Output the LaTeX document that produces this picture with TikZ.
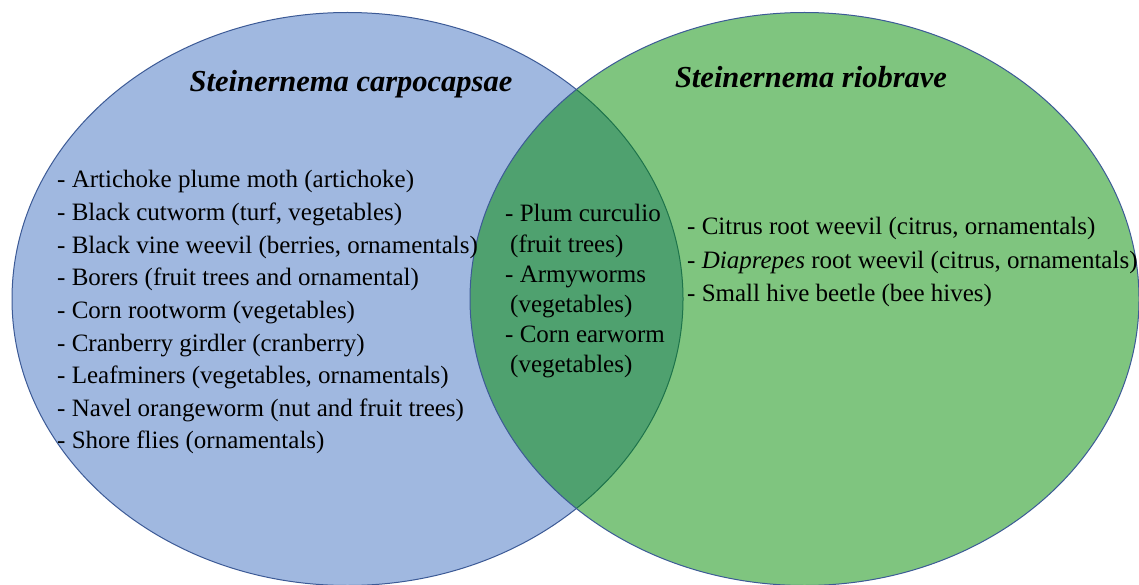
\documentclass[tikz,border=0pt]{standalone}
\usepackage{fontspec}
\setmainfont{Liberation Serif}
\definecolor{setA}{RGB}{160,184,224}
\definecolor{setB}{RGB}{0,140,0}
\definecolor{rim}{RGB}{60,90,150}
\tikzset{
  body/.style={anchor=base west, inner sep=0pt, font=\fontsize{25}{30}\selectfont},
  title/.style={anchor=base, inner sep=0pt, font=\fontsize{30.5}{34}\selectfont\bfseries\itshape},
}
\begin{document}
\begin{tikzpicture}[x=1pt,y=-1pt]
\useasboundingbox (0,0) rectangle (1139,585);
\fill[white] (0,0) rectangle (1139,585);
% left set
\draw[fill=setA, draw=rim, line width=1pt] (347.5,299) ellipse [x radius=335.5, y radius=286.5];
% right set
\draw[fill=setB, fill opacity=0.5, draw=rim, line width=1pt] (804.5,299) ellipse [x radius=334.5, y radius=286.5];
% titles
\node[title] (tA) at (351,92) {Steinernema carpocapsae};
\node[title] (tB) at (811,88) {Steinernema riobrave};
% left list
\foreach \t [count=\i from 0] in {
  {- Artichoke plume moth (artichoke)},
  {- Black cutworm (turf, vegetables)},
  {- Black vine weevil (berries, ornamentals)},
  {- Borers (fruit trees and ornamental)},
  {- Corn rootworm (vegetables)},
  {- Cranberry girdler (cranberry)},
  {- Leafminers (vegetables, ornamentals)},
  {- Navel orangeworm (nut and fruit trees)},
  {- Shore flies (ornamentals)}}
  \node[body] (L\i) at (57,188+32.6*\i) {\t};
% middle list
\node[body] (M0) at (505,222) {- Plum curculio};
\node[body] (M1) at (510,252) {(fruit trees)};
\node[body] (M2) at (505,282) {- Armyworms};
\node[body] (M3) at (510,312) {(vegetables)};
\node[body] (M4) at (505,342) {- Corn earworm};
\node[body] (M5) at (510,372) {(vegetables)};
% right list
\node[body] (R0) at (687,235) {- Citrus root weevil (citrus, ornamentals)};
\node[body] (R1) at (687,268) {- \textit{Diaprepes} root weevil (citrus, ornamentals)};
\node[body] (R2) at (687,301) {- Small hive beetle (bee hives)};
\end{tikzpicture}
\end{document}
